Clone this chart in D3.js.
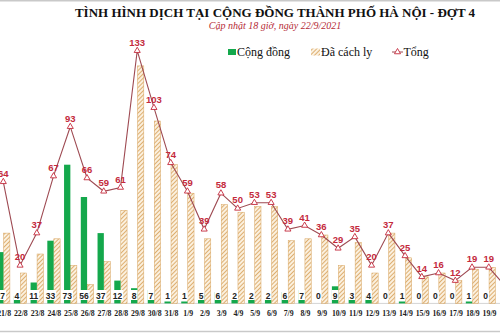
<!DOCTYPE html>
<html><head><meta charset="utf-8">
<script src="https://cdn.jsdelivr.net/npm/d3@7"></script>
<style>html,body{margin:0;padding:0;background:#fff;overflow:hidden}</style>
</head><body>
<svg id="c" width="500" height="333"></svg>
<script>
// ---- data ----
const categories = ["21/8","22/8","23/8","24/8","25/8","26/8","27/8","28/8","29/8","30/8","31/8",
  "1/9","2/9","3/9","4/9","5/9","6/9","7/9","8/9","9/9","10/9","11/9","12/9","13/9","14/9","15/9",
  "16/9","17/9","18/9","19/9","20/9"];
const visibleCategories = categories.slice(0, 30); // the picture is cropped after 19/9
const community = [27,4,11,33,73,56,37,12,8,7,1,1,5,6,2,2,2,6,7,0,9,3,4,0,1,0,0,0,1,0,null];
const isolated  = [37,16,26,34,20,10,22,49,125,96,73,58,34,52,48,51,51,33,34,36,20,32,16,37,24,14,16,12,18,19,null];
const total     = [64,20,37,67,93,66,59,61,133,103,74,59,39,58,50,53,53,39,41,36,29,35,20,37,25,14,16,12,19,19,9];
const seriesNames = ["Cộng đồng","Đã cách ly","Tổng"];
const titleText = "TÌNH HÌNH DỊCH TẠI CỘNG ĐỒNG THÀNH PHỐ HÀ NỘI - ĐỢT 4";
const subtitleText = "Cập nhật 18 giờ, ngày 22/9/2021";

const svg = d3.select("#c");
const GREEN = "#14a84c", TAN = "#d8a45e", RED = "#c42a3c", LINE = "#9e4a52";

// hatch pattern
const defs = svg.append("defs");
const pat = defs.append("pattern").attr("id","hatch").attr("patternUnits","userSpaceOnUse")
  .attr("width",3).attr("height",3).attr("patternTransform","rotate(45)");
pat.append("rect").attr("width",3).attr("height",3).attr("fill","#fbf0de");
pat.append("line").attr("x1",0).attr("y1",0).attr("x2",0).attr("y2",3)
  .attr("stroke",TAN).attr("stroke-width",1.7);

// frame lines
svg.append("line").attr("x1",0).attr("x2",500).attr("y1",0.8).attr("y2",0.8).attr("stroke","#c9c9c9").attr("stroke-width",1.5);
svg.append("line").attr("x1",0).attr("x2",500).attr("y1",331.5).attr("y2",331.5).attr("stroke","#c9c9c9").attr("stroke-width",1.5);

// scales
const step = 16.74, firstCenter = 4.1;
const x = d3.scaleBand().domain(categories)
  .range([firstCenter - step/2, firstCenter - step/2 + categories.length*step]).padding(0);
const cx = c => x(c) + x.bandwidth()/2;
const y = d3.scaleLinear().domain([0,140]).range([303.4, 37.4]);

// title
svg.append("text").attr("x",275).attr("y",17).attr("text-anchor","middle")
  .attr("font-family","'Liberation Serif','DejaVu Serif',serif").attr("font-weight","bold")
  .attr("font-size",13).attr("fill","#111").text(titleText);
svg.append("text").attr("x",275).attr("y",29).attr("text-anchor","middle")
  .attr("font-family","'Liberation Serif',serif").attr("font-style","italic")
  .attr("font-size",10).attr("fill","#b52a35").text(subtitleText);

// baseline
svg.append("line").attr("x1",0).attr("x2",500).attr("y1",y(0)).attr("y2",y(0)).attr("stroke","#d4d4d4").attr("stroke-width",1);

// bars
const idx = d3.range(categories.length);
svg.append("g").selectAll("rect").data(idx.filter(i=>isolated[i]!=null)).join("rect")
  .attr("x", i => cx(categories[i]) - 0.5).attr("width",6.3)
  .attr("y", i => y(isolated[i])).attr("height", i => y(0)-y(isolated[i]))
  .attr("fill","url(#hatch)").attr("stroke",TAN).attr("stroke-width",0.5);
svg.append("g").selectAll("rect").data(idx.filter(i=>community[i]!=null)).join("rect")
  .attr("x", i => cx(categories[i]) - 7).attr("width",6.3)
  .attr("y", i => y(community[i])).attr("height", i => y(0)-y(community[i]))
  .attr("fill",GREEN);

// community labels with white box
const cl = svg.append("g");
idx.filter(i=>community[i]!=null).forEach(i => {
  const t = cl.append("text").attr("x", cx(categories[i]) - 3.85).attr("y",299)
    .attr("text-anchor","middle").attr("font-family","'Liberation Sans',Arial,sans-serif")
    .attr("font-weight","bold").attr("font-size",8.5).attr("fill","#222").text(community[i]);
  const w = t.node().getComputedTextLength();
  cl.insert("rect","text:last-child").attr("x", cx(categories[i]) - 3.85 - w/2 - 1).attr("width", w+2)
    .attr("y",290).attr("height",10).attr("fill","#fff");
});

// total line
const line = d3.line().x((d,i)=>cx(categories[i]) - 0.8).y(d=>y(d));
svg.append("path").datum(total).attr("d",line).attr("fill","none").attr("stroke",LINE).attr("stroke-width",1.1);
const tri = d3.symbol().type(d3.symbolTriangle).size(16);
const shown = idx.filter(i => visibleCategories.includes(categories[i]));
svg.append("g").selectAll("path").data(shown).join("path")
  .attr("d",tri).attr("transform", i => `translate(${cx(categories[i]) - 0.8},${y(total[i])})`)
  .attr("fill","#fff").attr("stroke",RED).attr("stroke-width",0.9);
svg.append("g").selectAll("text").data(shown).join("text")
  .attr("x", i => cx(categories[i]) - 0.8).attr("y", i => y(total[i]) - 5)
  .attr("text-anchor","middle").attr("font-family","'Liberation Sans',Arial,sans-serif")
  .attr("font-weight","bold").attr("font-size",9.5).attr("fill",RED).text(i => total[i]);

// category axis
const ax = svg.append("g").attr("transform",`translate(0,${y(0)})`)
  .call(d3.axisBottom(x).tickValues(visibleCategories).tickSize(0).tickPadding(6));
ax.select(".domain").remove();
ax.selectAll("text").attr("font-family","'Liberation Serif',serif").attr("font-size",7.8)
  .attr("font-weight","bold").attr("fill","#222").attr("dy","0.9em");

// legend
const lg = svg.append("g").attr("font-family","'Liberation Serif',serif").attr("font-size",12).attr("fill","#111");
lg.append("rect").attr("x",228).attr("y",49).attr("width",8).attr("height",6).attr("fill",GREEN);
lg.append("text").attr("x",237).attr("y",56).text(seriesNames[0]);
lg.append("rect").attr("x",311).attr("y",48.5).attr("width",9).attr("height",7).attr("fill","url(#hatch)");
lg.append("text").attr("x",321).attr("y",56).text(seriesNames[1]);
lg.append("line").attr("x1",392).attr("x2",403).attr("y1",52).attr("y2",52).attr("stroke",LINE).attr("stroke-width",1);
lg.append("path").attr("d",tri).attr("transform","translate(397.5,52)").attr("fill","#fff").attr("stroke",RED).attr("stroke-width",0.9);
lg.append("text").attr("x",403.5).attr("y",56).text(seriesNames[2]);
</script>
</body></html>
